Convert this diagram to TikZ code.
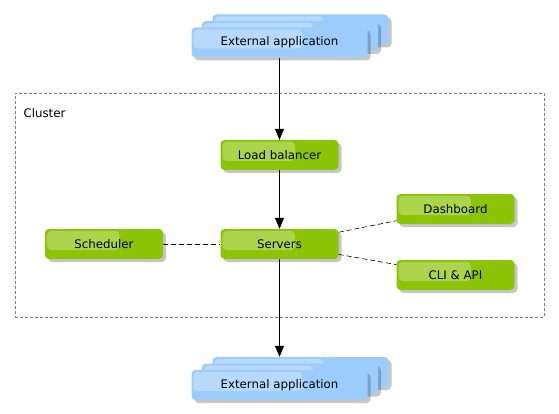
\documentclass[tikz,border=0pt]{standalone}
\usepackage{fontspec}
\setmainfont{DejaVu Sans}
\usetikzlibrary{arrows.meta,shadows,calc}
\definecolor{boxgreen}{RGB}{140,196,8}
\definecolor{appblue}{RGB}{156,204,252}

\begin{document}
\begin{tikzpicture}[x=1pt,y=-1pt,
    box/.style ={rounded corners=4pt, fill=boxgreen, minimum width=118pt, minimum height=30pt, inner sep=0pt,
      font=\fontsize{11.8}{14}\selectfont,
      drop shadow={shadow xshift=3pt,shadow yshift=-3pt,fill=black,opacity=0.22},
      path picture={\fill[white,opacity=0.28,rounded corners=4pt]
        ([shift={(2pt,-2pt)}]path picture bounding box.north west) rectangle
        ($(path picture bounding box.west)!0.63!(path picture bounding box.east)+(0pt,-6pt)$);}},
    appbox/.style ={box, fill=appblue, minimum width=176pt},
    link/.style ={line width=0.8pt, -{Triangle[width=9pt,length=11pt]}},
    dashlink/.style ={line width=0.6pt, dash pattern=on 5pt off 3pt}]
   \useasboundingbox (0,0) rectangle (559,414);
   % cluster
   \node[draw=gray, dash pattern=on 3pt off 2pt, minimum width=529pt, minimum height=224pt] (cluster) at (279.5,205) {};
   \node[anchor=west, font=\fontsize{11.8}{14}\selectfont] (clusterlabel) at (20,113) {Cluster};
   % external application (top)
   \node[appbox] (top3) at (300.5,29.5) {};
   \node[appbox] (top2) at (290,36) {};
   \node[appbox] (top)  at (279.5,42.5) {External application};
   % cluster members
   \node[box] (lb)    at (279.5,155) {Load balancer};
   \node[box] (srv)   at (279.5,244) {Servers};
   \node[box] (sched) at (104,244)   {Scheduler};
   \node[box] (dash)  at (455.5,209) {Dashboard};
   \node[box] (cli)   at (455.5,275) {CLI \& API};
   % external application (bottom)
   \node[appbox] (bot3) at (300.5,372) {};
   \node[appbox] (bot2) at (290,378.5) {};
   \node[appbox] (bot)  at (279.5,385) {External application};
   \draw[link] (top) to (lb);
   \draw[link] (lb) to (srv);
   \draw[link] (srv) to (srv |- bot3.north);
   \draw[dashlink] (sched) to (srv);
   \draw[dashlink] (srv) to (dash);
   \draw[dashlink] (srv) to (cli);
 \end{tikzpicture}
\end{document}
